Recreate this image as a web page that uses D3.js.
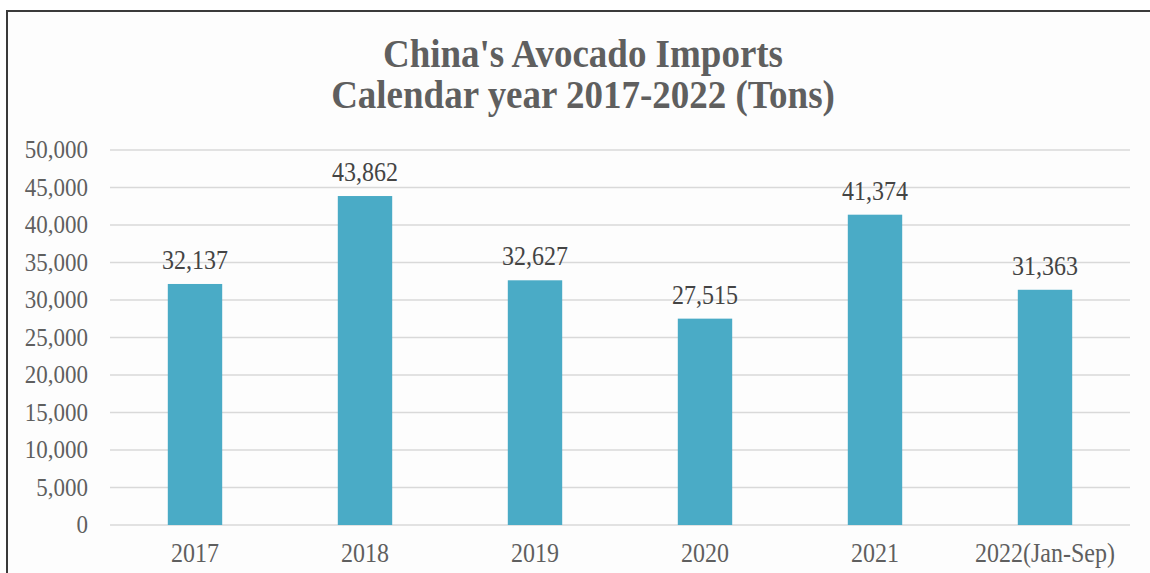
<!DOCTYPE html>
<html>
<head>
<meta charset="utf-8">
<script src="https://cdn.jsdelivr.net/npm/d3@7"></script>
<style>
  body { margin: 0; background: #ffffff; }
  svg { display: block; }
</style>
</head>
<body>
<div id="chart"></div>
<script>
// Data
const categories = ['2017', '2018', '2019', '2020', '2021', '2022(Jan-Sep)'];
const imports = [32137, 43862, 32627, 27515, 41374, 31363];
const yTicks = [0, 5000, 10000, 15000, 20000, 25000, 30000, 35000, 40000, 45000, 50000];
const titleLines = ["China's Avocado Imports", 'Calendar year 2017-2022 (Tons)'];

const W = 1150, H = 573;
const margin = { top: 150, right: 20, bottom: 48, left: 110 };
const stretch = 1.1; // reference text looks slightly taller than it is wide
const font = "'Liberation Serif', 'Times New Roman', serif";

const svg = d3.select('#chart').append('svg')
    .attr('width', W)
    .attr('height', H);

// Chart frame (only left and top edges fall inside the picture)
svg.append('rect')
    .attr('x', 7).attr('y', 11)
    .attr('width', W + 20).attr('height', H + 20)
    .attr('fill', '#fdfdfd')
    .attr('stroke', '#3a3a3a')
    .attr('stroke-width', 2);

const x = d3.scaleBand()
    .domain(categories)
    .range([margin.left, W - margin.right])
    .paddingInner(0.68)
    .paddingOuter(0.34);

const y = d3.scaleLinear()
    .domain([0, 50000])
    .range([H - margin.bottom, margin.top]);

// Helper: text stretched vertically around its baseline
function stretchedText(g, tx, ty, str) {
    return g.append('text')
        .attr('transform', `translate(${tx},${ty}) scale(1,${stretch})`)
        .text(str);
}

// Gridlines
svg.append('g')
    .selectAll('line')
    .data(yTicks)
    .join('line')
    .attr('x1', margin.left)
    .attr('x2', W - margin.right)
    .attr('y1', d => y(d))
    .attr('y2', d => y(d))
    .attr('stroke', '#d9d9d9')
    .attr('stroke-width', 1.5);

// Y axis labels
const yAxis = svg.append('g')
    .attr('font-family', font)
    .attr('font-size', '23px')
    .attr('fill', '#5f5f5f')
    .attr('text-anchor', 'end');
yTicks.forEach(t => {
    stretchedText(yAxis, 88, y(t) + 8, d3.format(',')(t));
});

// Bars
svg.append('g')
    .selectAll('rect')
    .data(imports)
    .join('rect')
    .attr('x', (d, i) => x(categories[i]))
    .attr('y', d => y(d))
    .attr('width', x.bandwidth())
    .attr('height', d => y(0) - y(d))
    .attr('fill', '#4aabc6');

// Value labels
const labels = svg.append('g')
    .attr('font-family', font)
    .attr('font-size', '24px')
    .attr('fill', '#444444')
    .attr('text-anchor', 'middle');
imports.forEach((v, i) => {
    stretchedText(labels, x(categories[i]) + x.bandwidth() / 2, y(v) - 15, d3.format(',')(v));
});

// X axis labels
const xAxis = svg.append('g')
    .attr('font-family', font)
    .attr('font-size', '24px')
    .attr('fill', '#5f5f5f')
    .attr('text-anchor', 'middle');
categories.forEach(c => {
    stretchedText(xAxis, x(c) + x.bandwidth() / 2, 562, c);
});

// Title
const title = svg.append('g')
    .attr('font-family', font)
    .attr('font-size', '37px')
    .attr('font-weight', 'bold')
    .attr('fill', '#5f5f5f')
    .attr('text-anchor', 'middle');
titleLines.forEach((line, i) => {
    stretchedText(title, 583, 67 + i * 41, line);
});
</script>
</body>
</html>
